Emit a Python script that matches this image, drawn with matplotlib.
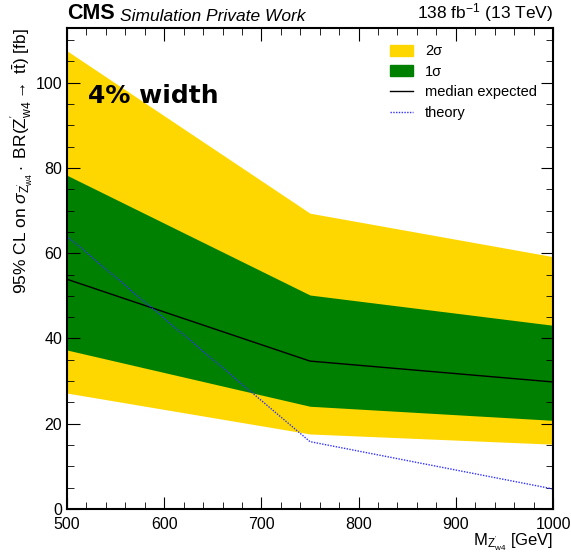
import matplotlib
matplotlib.use("Agg")
import matplotlib.pyplot as plt
from matplotlib.ticker import MultipleLocator
from matplotlib.patches import Patch
from matplotlib.lines import Line2D

plt.rcParams['font.family'] = ['Liberation Sans', 'DejaVu Sans']
plt.rcParams['mathtext.fontset'] = 'custom'
plt.rcParams['mathtext.rm'] = 'Liberation Sans'
plt.rcParams['mathtext.it'] = 'Liberation Sans:italic'
plt.rcParams['mathtext.sf'] = 'Liberation Sans'

# masses and expected limits (fb)
mass = [500, 750, 1000]
exp_2sig_up = [107.5, 69.4, 59.2]
exp_1sig_up = [78.3, 50.2, 43.1]
exp_median = [53.9, 34.7, 29.8]
exp_1sig_dn = [37.3, 24.1, 20.8]
exp_2sig_dn = [27.2, 17.6, 15.2]
theory = [64.0, 15.8, 4.7]

fig = plt.figure(figsize=(5.71, 5.53), dpi=100)
ax = fig.add_axes([0.1173, 0.0796, 0.8512, 0.8694])

ax.fill_between(mass, exp_2sig_dn, exp_2sig_up, color='#ffd700', lw=0)
ax.fill_between(mass, exp_1sig_dn, exp_1sig_up, color='#008000', lw=0)
ax.plot(mass, exp_median, color='black', lw=1.0)
ax.plot(mass, theory, color='#3030ff', lw=1.0, ls=(0, (1, 1)))

ax.set_xlim(500, 1000)
ax.set_ylim(0, 112.8)
ax.xaxis.set_major_locator(MultipleLocator(100))
ax.xaxis.set_minor_locator(MultipleLocator(20))
ax.yaxis.set_major_locator(MultipleLocator(20))
ax.yaxis.set_minor_locator(MultipleLocator(5))
ax.tick_params(which='both', direction='in', top=True, right=True, labelsize=11.5)
ax.tick_params(which='major', length=9)
ax.tick_params(which='minor', length=5)
ax.tick_params(axis='x', pad=6)
for s in ax.spines.values():
    s.set_linewidth(1.5)

ax.set_xlabel(r"M$_{\mathrm{Z}^{'}_{\mathrm{w4}}}$ [GeV]", fontsize=12, loc='right')
ax.xaxis.set_label_coords(1.0, -0.046)
ax.set_ylabel(r"95% CL on $\sigma_{\mathrm{Z}^{'}_{\mathrm{w4}}}\cdot$ BR(Z$^{'}_{\mathrm{w4}}$$\rightarrow$ t$\bar{\mathrm{t}}$) [fb]",
              fontsize=12.5, loc='top')
ax.yaxis.set_label_coords(-0.065, 1.0)

fig.text(0.1173, 0.957, "CMS", fontsize=15.5, fontweight='bold', ha='left', va='bottom')
fig.text(0.21, 0.957, "Simulation Private Work", fontsize=12.5, style='italic', ha='left', va='bottom')
fig.text(0.9685, 0.957, r"138 fb$^{-1}$ (13 TeV)", fontsize=12.5, ha='right', va='bottom')

ax.text(0.043, 0.844, "4% width", transform=ax.transAxes, fontsize=18, fontweight='bold',
        family=['DejaVu Sans'], va='baseline')

handles = [Patch(color='#ffd700'), Patch(color='#008000'),
           Line2D([], [], color='black', lw=1.0),
           Line2D([], [], color='#3030ff', lw=1.0, ls=(0, (1, 1)))]
labels = ["2σ", "1σ", "median expected", "theory"]
ax.legend(handles, labels, loc='upper right', bbox_to_anchor=(1.0, 1.0), frameon=False,
          fontsize=10.5, handlelength=1.6, handleheight=0.8, handletextpad=0.8,
          labelspacing=0.45, borderaxespad=0.7)

fig.savefig("out.png", dpi=100)
